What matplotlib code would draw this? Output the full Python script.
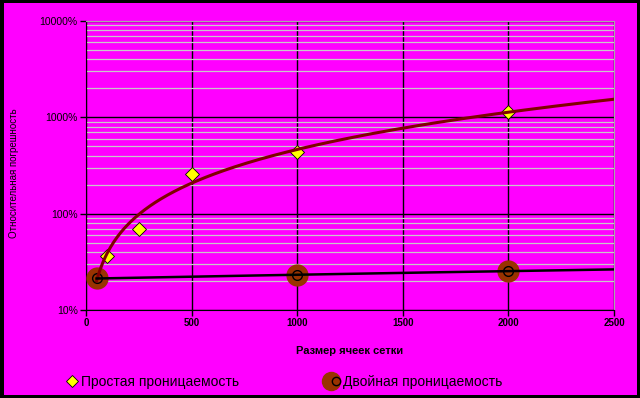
import numpy as np
import matplotlib
matplotlib.use("Agg")
import matplotlib.pyplot as plt
from matplotlib.lines import Line2D
from matplotlib.patches import Rectangle
from matplotlib.legend_handler import HandlerTuple
from matplotlib.ticker import FixedLocator, FuncFormatter, NullFormatter

plt.rcParams['font.family'] = ['Liberation Sans', 'DejaVu Sans']

# Data (percent values)
x_simple = [50, 100, 250, 500, 1000, 2000]
y_simple = [21, 36.5, 69, 261, 437, 1135]
x_double = [50, 1000, 2000]
y_double = [21.3, 23.1, 25.4]
x_ticks = [0, 500, 1000, 1500, 2000, 2500]
y_ticks = [10, 100, 1000, 10000]
label_simple = "Простая проницаемость"
label_double = "Двойная проницаемость"
x_title = "Размер ячеек сетки"
y_title = "Относительная погрешность"

MAG = "#FF00FF"
fig = plt.figure(figsize=(6.4, 3.98), dpi=100, facecolor="black")
fig.add_artist(Rectangle((4/640, 3/398), 633/640, 392/398, transform=fig.transFigure,
                         facecolor=MAG, edgecolor="none", zorder=0))

ax = fig.add_axes([86/640, 88/398, 528/640, 289/398])
ax.set_facecolor(MAG)
ax.set_yscale("log")
ax.set_xlim(0, 2500)
ax.set_ylim(10, 10000)

# gridlines
ax.yaxis.set_major_locator(FixedLocator(y_ticks))
minor = [m * 10**e for e in range(1, 4) for m in range(2, 10)]
ax.yaxis.set_minor_locator(FixedLocator(minor))
ax.yaxis.set_minor_formatter(NullFormatter())
ax.yaxis.set_major_formatter(FuncFormatter(lambda v, p: f"{v:g}%"))
ax.set_xticks(x_ticks)
ax.grid(True, which="minor", axis="y", color="#C8C8C8", linewidth=0.9)
ax.grid(True, which="major", axis="y", color="black", linewidth=1.0)
ax.grid(True, which="major", axis="x", color="black", linewidth=1.0)
ax.set_axisbelow(True)
ax.tick_params(axis="y", which="minor", length=0)
ax.tick_params(axis="both", which="major", length=4, width=1, color="black",
               direction="out", labelsize=7.5, pad=2)
ax.tick_params(axis="x", labelsize=7)
for lab in ax.get_xticklabels():
    lab.set_fontweight("bold")
for s in ("left", "bottom"):
    ax.spines[s].set_color("black")
for s in ("top", "right"):
    ax.spines[s].set_color("#A8A8A8")

# markers (double markers over simple ones)
ax.plot(x_simple, y_simple, linestyle="none", marker="D", markersize=7.5,
        markerfacecolor="#FFFF00", markeredgecolor="black", markeredgewidth=0.6, zorder=3)
ax.plot(x_double, y_double, linestyle="none", marker="o", markersize=15,
        markerfacecolor="#993300", markeredgecolor="#993300", zorder=4)
ax.plot(x_double, y_double, linestyle="none", marker="o", markersize=7,
        markerfacecolor="none", markeredgecolor="black", markeredgewidth=1, zorder=5)

# trendlines fitted from data, drawn on top of markers
xs = np.linspace(50, 2500, 300)
cs = np.polyfit(x_simple, y_simple, 2)
ax.plot(xs, np.polyval(cs, xs), color="#800000", linewidth=2.2, zorder=6)
cd = np.polyfit(x_double, y_double, 1)
ax.plot(xs, np.polyval(cd, xs), color="black", linewidth=1.8, zorder=6)

ax.set_xlabel(x_title, fontsize=8, fontweight="bold", labelpad=13)
fig.text(14/640, 1 - 173/398, y_title, rotation=90, fontsize=7,
         ha="center", va="center")

# legend
h1 = Line2D([], [], linestyle="none", marker="D", markersize=6,
            markerfacecolor="#FFFF00", markeredgecolor="black", markeredgewidth=0.6)
h2a = Line2D([], [], linestyle="none", marker="o", markersize=13,
             markerfacecolor="#993300", markeredgecolor="#993300")
h2b = Line2D([], [], linestyle="none", marker="o", markersize=6,
             markerfacecolor="none", markeredgecolor="black", markeredgewidth=1)
kw = dict(frameon=False, fontsize=10, handlelength=0.8, handletextpad=0.3,
          loc="center left", borderaxespad=0, borderpad=0)
fig.legend([h1], [label_simple], bbox_to_anchor=(66/640, 1 - 382/398), **kw)
fig.legend([(h2a, h2b)], [label_double], bbox_to_anchor=(328/640, 1 - 382/398),
           handler_map={tuple: HandlerTuple(ndivide=None, pad=0)}, **kw)

fig.savefig("out.png", dpi=100, facecolor=fig.get_facecolor())
